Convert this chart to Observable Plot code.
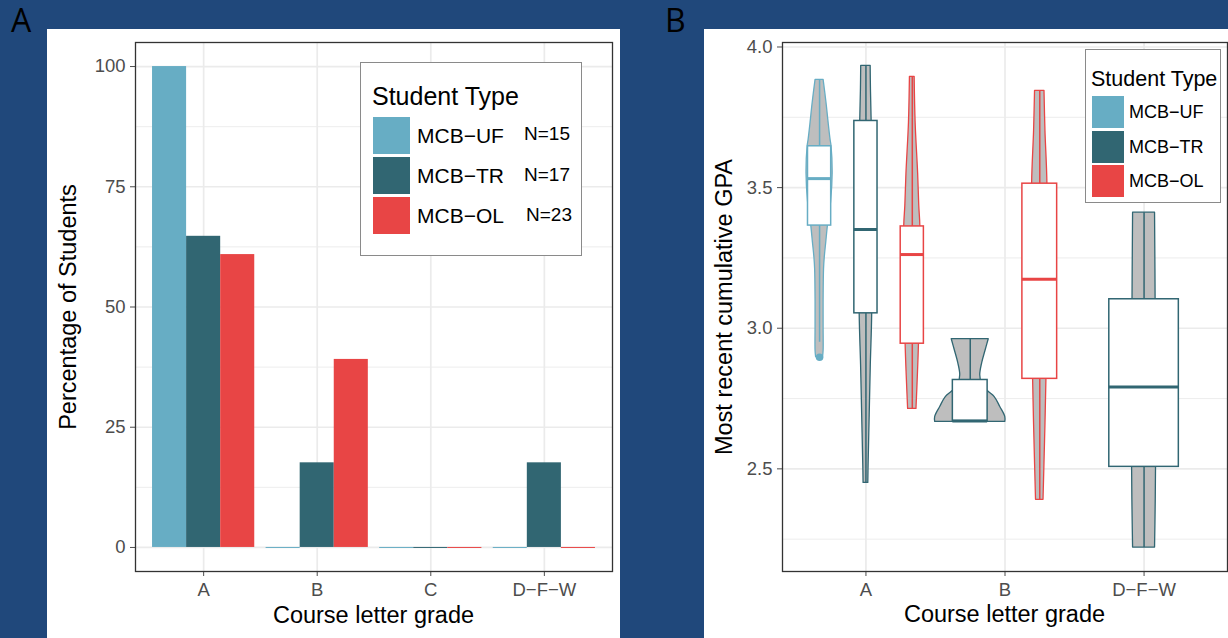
<!DOCTYPE html>
<html><head><meta charset="utf-8">
<script src="https://cdn.jsdelivr.net/npm/d3@7"></script>
<script src="https://cdn.jsdelivr.net/npm/@observablehq/plot@0.6"></script>
<style>
html,body{margin:0;padding:0}
body{background:#20487b;width:1228px;height:638px;overflow:hidden;position:relative;font-family:"Liberation Sans",Arial,sans-serif;}
.panel{position:absolute;top:29px;height:609px;background:#fff;}
.t{position:absolute;white-space:nowrap;color:#000;}
.sw{position:absolute;}
.lg{position:absolute;box-sizing:border-box;border:1.5px solid #8a8a8a;background:#fff;}
</style></head><body>
<div id="pa" class="panel" style="left:47px;width:573px"></div>
<div id="pb" class="panel" style="left:704px;width:524px"></div>
<script>
// ---------- Panel A data ----------
const grades = ["A", "B", "C", "D\u2212F\u2212W"];
const types = ["MCB\u2212UF", "MCB\u2212TR", "MCB\u2212OL"];
const typeColors = ["#67adc4", "#316672", "#e84545"];
const counts = ["N=15", "N=17", "N=23"];
const pctUF = [100, 0, 0, 0];
const pctTR = [64.7, 17.6, 0, 17.6];
const pctOL = [60.9, 39.1, 0, 0];
const yMajorA = [0, 25, 50, 75, 100];
const yMinorA = [12.5, 37.5, 62.5, 87.5];

// ---------- Panel B data ----------
const gpaGrades = ["A", "B", "D\u2212F\u2212W"];
const grpGrade = ["A", "A", "A", "B", "B", "D\u2212F\u2212W"];
const grpType = ["MCB\u2212UF", "MCB\u2212TR", "MCB\u2212OL", "MCB\u2212TR", "MCB\u2212OL", "MCB\u2212TR"];
const grpQ1  = [3.365, 3.053, 2.945, 2.670, 2.820, 2.507];
const grpMed = [3.532, 3.351, 3.262, 2.670, 3.174, 2.791];
const grpQ3  = [3.647, 3.737, 3.362, 2.816, 3.514, 3.103];
const grpLo  = [2.950, 2.450, 2.713, 2.667, 2.390, 2.220];
const grpHi  = [3.883, 3.933, 3.894, 2.961, 3.844, 3.411];
const outlierGroup = [0];
const outlierGpa = [2.897];
// violin half-widths (in category units) at GPA values
const violinUF_A = [[3.883,0.029],[3.80,0.050],[3.73,0.065],[3.67,0.079],[3.647,0.086],[3.55,0.094],[3.45,0.083],[3.365,0.060],[3.305,0.048],[3.25,0.037],[3.21,0.032],[3.10,0.029],[3.00,0.029],[2.92,0.029],[2.897,0.025]];
const violinTR_A = [[3.933,0.034],[3.85,0.036],[3.737,0.041],[3.50,0.044],[3.053,0.045],[2.87,0.035],[2.69,0.027],[2.51,0.019],[2.45,0.017]];
const violinOL_A = [[3.894,0.017],[3.73,0.024],[3.55,0.042],[3.436,0.050],[3.362,0.058],[3.15,0.055],[2.945,0.048],[2.83,0.040],[2.713,0.030]];
const violinTR_B = [[2.961,0.133],[2.92,0.110],[2.876,0.086],[2.833,0.072],[2.80,0.086],[2.775,0.130],[2.755,0.176],[2.72,0.216],[2.685,0.252],[2.667,0.252]];
const violinOL_B = [[3.844,0.034],[3.70,0.041],[3.514,0.055],[3.15,0.052],[2.82,0.048],[2.60,0.038],[2.39,0.027]];
const violinTR_D = [[3.411,0.079],[3.103,0.083],[2.507,0.086],[2.35,0.083],[2.22,0.079]];
const violins = [violinUF_A, violinTR_A, violinOL_A, violinTR_B, violinOL_B, violinTR_D];
const yMajorB = [2.5, 3.0, 3.5, 4.0];
const yMinorB = [2.25, 2.75, 3.25, 3.75];

const FONT = "Liberation Sans, Arial, sans-serif";
const GRID = "#ebebeb";
const TICKFS = "18.5px";
const TITLEFS = 23.5;

// ---------- Panel A ----------
const barRows = [];
grades.forEach((g, gi) => {
  [pctUF, pctTR, pctOL].forEach((arr, ti) => {
    const w = 0.9 / 3;
    const x1 = gi - 0.45 + ti * w;
    barRows.push({grade: g, type: types[ti], value: arr[gi], x1, x2: x1 + w});
  });
});

const plotA = Plot.plot({
  width: 573, height: 609,
  marginLeft: 88, marginRight: 8, marginTop: 13, marginBottom: 67,
  style: {background: "white", color: "#4d4d4d", fontFamily: FONT, fontSize: TICKFS},
  x: {type: "linear", domain: [-0.6, grades.length - 0.4], ticks: grades.map((g, i) => i),
      tickFormat: i => grades[i], tickSize: 5, tickPadding: 6, label: null},
  y: {domain: [-5, 105], ticks: yMajorA, tickSize: 5, tickPadding: 5, label: null},
  color: {domain: types, range: typeColors},
  marks: [
    Plot.ruleY(yMinorA, {stroke: GRID, strokeWidth: 0.9}),
    Plot.ruleY(yMajorA, {stroke: GRID, strokeWidth: 1.7}),
    Plot.ruleX(grades.map((g, i) => i), {stroke: GRID, strokeWidth: 1.7}),
    Plot.rectY(barRows.filter(d => d.value > 0), {x1: "x1", x2: "x2", y1: 0, y2: "value", fill: "type"}),
    Plot.ruleY(barRows.filter(d => d.value === 0), {y: "value", x1: "x1", x2: "x2", stroke: "type", strokeWidth: 1}),
    Plot.frame({stroke: "#333333", strokeWidth: 1.3})
  ]
});
document.getElementById("pa").appendChild(plotA);

// ---------- Panel B ----------
const groups = grpGrade.map((g, i) => {
  const gi = gpaGrades.indexOf(g);
  const same = grpGrade.map((h, j) => j).filter(j => grpGrade[j] === g);
  const n = same.length, k = same.indexOf(i);
  const cx = gi - 0.5 + (k + 0.5) / n;
  const hb = 0.25 / n;
  return {id: i, type: grpType[i], cx, bx1: cx - hb, bx2: cx + hb,
          q1: grpQ1[i], med: grpMed[i], q3: grpQ3[i], lo: grpLo[i], hi: grpHi[i]};
});
const violinRows = [];
violins.forEach((prof, i) => {
  prof.forEach(([gpa, hw]) => violinRows.push({id: i, type: grpType[i], gpa, xl: groups[i].cx - hw, xr: groups[i].cx + hw}));
});
const outliers = outlierGroup.map((gi, k) => ({type: grpType[gi], x: groups[gi].cx, gpa: outlierGpa[k]}));

const plotB = Plot.plot({
  width: 524, height: 609,
  marginLeft: 78, marginRight: 1, marginTop: 13, marginBottom: 67,
  style: {background: "white", color: "#4d4d4d", fontFamily: FONT, fontSize: TICKFS},
  x: {type: "linear", domain: [-0.6, gpaGrades.length - 0.4], ticks: gpaGrades.map((g, i) => i),
      tickFormat: i => gpaGrades[i], tickSize: 5, tickPadding: 6, label: null},
  y: {domain: [2.135, 4.016], ticks: yMajorB, tickFormat: d3.format(".1f"), tickSize: 5, tickPadding: 5, label: null},
  color: {domain: types, range: typeColors},
  marks: [
    Plot.ruleY(yMinorB, {stroke: GRID, strokeWidth: 0.9}),
    Plot.ruleY(yMajorB, {stroke: GRID, strokeWidth: 1.7}),
    Plot.ruleX(gpaGrades.map((g, i) => i), {stroke: GRID, strokeWidth: 1.7}),
    Plot.areaX(violinRows, {y: "gpa", x1: "xl", x2: "xr", z: "id", fill: "#bebebe", stroke: "type", strokeWidth: 1.3, curve: "catmull-rom"}),
    Plot.ruleX(groups, {x: "cx", y1: "q3", y2: "hi", stroke: "type", strokeWidth: 1.5}),
    Plot.ruleX(groups, {x: "cx", y1: "lo", y2: "q1", stroke: "type", strokeWidth: 1.5}),
    Plot.rect(groups, {x1: "bx1", x2: "bx2", y1: "q1", y2: "q3", fill: "white", stroke: "type", strokeWidth: 1.5}),
    Plot.ruleY(groups, {y: "med", x1: "bx1", x2: "bx2", stroke: "type", strokeWidth: 3}),
    Plot.dot(outliers, {x: "x", y: "gpa", r: 3.8, fill: "type", stroke: "none"}),
    Plot.frame({stroke: "#333333", strokeWidth: 1.3})
  ]
});
document.getElementById("pb").appendChild(plotB);

// ---------- Text & legends (HTML, page coordinates) ----------
function txt(x, base, s, fs, opt = {}) {
  const d = document.createElement("div");
  d.className = "t";
  d.textContent = s;
  d.style.fontSize = fs + "px";
  d.style.lineHeight = fs + "px";
  d.style.fontFamily = opt.family || FONT;
  if (opt.color) d.style.color = opt.color;
  if (opt.rotate) {
    d.style.left = (x - 0.347 * fs) + "px";
    d.style.top = base + "px";
    d.style.transform = "translate(-50%,-50%) rotate(-90deg)";
  } else {
    d.style.left = x + "px";
    d.style.top = (base - 0.847 * fs) + "px";
    if (opt.center) d.style.transform = "translateX(-50%)";
  }
  document.body.appendChild(d);
  return d;
}
function box(cls, x, y, w, h, color) {
  const d = document.createElement("div");
  d.className = cls;
  d.style.left = x + "px"; d.style.top = y + "px";
  d.style.width = w + "px"; d.style.height = h + "px";
  if (color) d.style.background = color;
  document.body.appendChild(d);
  return d;
}

// panel letters
txt(11, 31, "A", 32, {family: "Open Sans, sans-serif"});
txt(665, 31, "B", 32, {family: "Open Sans, sans-serif"});

// axis titles
txt(373.5, 624, "Course letter grade", TITLEFS, {center: true});
txt(77, 306.5, "Percentage of Students", TITLEFS, {rotate: true});
txt(1004.5, 623, "Course letter grade", TITLEFS, {center: true});
txt(733, 306.5, "Most recent cumulative GPA", TITLEFS, {rotate: true});

// legend A
box("lg", 360, 62, 222, 194);
txt(372, 105, "Student Type", 25);
const nX = [524, 524, 526];
const nBase = [140, 181, 221];
types.forEach((t, i) => {
  box("sw", 373, 117 + i * 40, 37, 37, typeColors[i]);
  txt(417, 143 + i * 40, t, 21);
  txt(nX[i], nBase[i], counts[i], 19);
});

// legend B
box("lg", 1085, 49, 136, 154);
txt(1091, 87, "Student Type", 21.5);
const swTopB = [96, 131, 165];
types.forEach((t, i) => {
  box("sw", 1092, swTopB[i], 32, 32, typeColors[i]);
  txt(1129, swTopB[i] + 16 + 6.5, t, 18);
});
</script>
</body></html>
